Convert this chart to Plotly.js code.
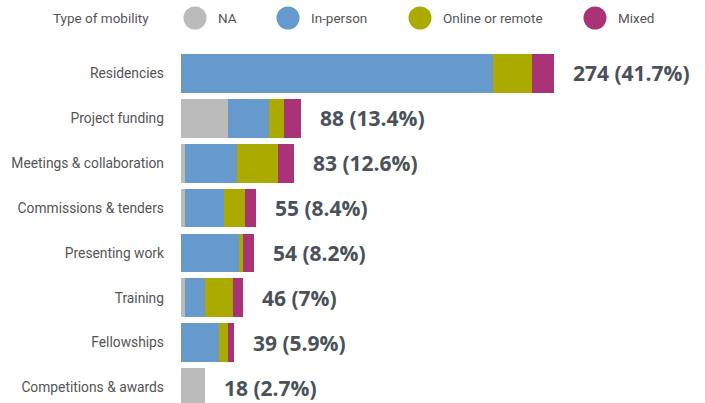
<!DOCTYPE html>
<html>
<head>
<meta charset="utf-8">
<script src="https://cdn.plot.ly/plotly-3.0.1.min.js"></script>
<style>
html,body{margin:0;padding:0;background:#fff;}
#chart{width:705px;height:403px;}
</style>
</head>
<body>
<div id="chart"></div>
<script>
// ---- data ----
var categories = ["Residencies","Project funding","Meetings & collaboration","Commissions & tenders","Presenting work","Training","Fellowships","Competitions & awards"];
var seriesNames = ["NA","In-person","Online or remote","Mixed"];
var naValues       = [0, 35, 3, 3, 0, 3, 0, 18];
var inPersonValues = [229, 30, 38, 29, 43, 15, 28, 0];
var onlineValues   = [29, 11, 30, 15, 3, 20, 7, 0];
var mixedValues    = [16, 12, 12, 8, 8, 8, 4, 0];
var legendTitle = "Type of mobility";

// ---- styling ----
var colors = ["#bbbbbb","#6699cc","#aaaa00","#aa3377"];
var W = 705, H = 403;
var mL = 180, mR = 0, mT = 51, mB = 0;
var plotW = W - mL - mR, plotH = H - mT - mB;
var pxPerUnit = 1.362;
var catSpacing = 44.87;

var allSeries = [naValues, inPersonValues, onlineValues, mixedValues];
var totals = categories.map(function(c, i){
  return allSeries.reduce(function(s, arr){ return s + arr[i]; }, 0);
});
var grand = totals.reduce(function(a,b){return a+b;},0);

var traces = allSeries.map(function(vals, k){
  return {
    type: 'bar', orientation: 'h',
    x: vals, y: categories,
    name: seriesNames[k],
    marker: {color: colors[k], line: {width: 0}},
    showlegend: false,
    hoverinfo: 'x+name'
  };
});

var annotations = categories.map(function(c, i){
  var pct = Math.round(totals[i] / grand * 1000) / 10;
  return {
    x: totals[i], y: c, xref: 'x', yref: 'y',
    text: totals[i] + ' (' + pct + '%)',
    xanchor: 'left', yanchor: 'middle', xshift: 17, yshift: 0,
    showarrow: false,
    font: {family: 'Open Sans, sans-serif', size: 21, color: '#4a5259', weight: 700}
  };
});

function px2x(px){ return (px - mL) / plotW; }
function py2y(py){ return (H - mB - py) / plotH; }

// legend (drawn manually to match circle markers)
var legY = 18;
annotations.push({
  x: px2x(51), y: py2y(legY), xref: 'paper', yref: 'paper',
  text: legendTitle, xanchor: 'left', yanchor: 'middle', showarrow: false,
  font: {family: 'Roboto, sans-serif', size: 13.5, color: '#555555'}
});
var circleCenters = [195, 288, 420, 595];
var shapes = [];
seriesNames.forEach(function(n, k){
  shapes.push({
    type: 'circle', xref: 'paper', yref: 'paper',
    xsizemode: 'pixel', ysizemode: 'pixel',
    xanchor: px2x(circleCenters[k]), yanchor: py2y(legY),
    x0: -11.5, x1: 11.5, y0: -11.5, y1: 11.5,
    fillcolor: colors[k], line: {width: 0}
  });
  annotations.push({
    x: px2x(circleCenters[k] + 21), y: py2y(legY), xref: 'paper', yref: 'paper',
    text: n, xanchor: 'left', yanchor: 'middle', showarrow: false,
    font: {family: 'Roboto, sans-serif', size: 13.5, color: '#555555'}
  });
});

var layout = {
  width: W, height: H,
  margin: {l: mL, r: mR, t: mT, b: mB, pad: 0},
  barmode: 'stack',
  bargap: 0.137,
  paper_bgcolor: '#ffffff', plot_bgcolor: '#ffffff',
  showlegend: false,
  xaxis: {
    range: [-0.6, plotW / pxPerUnit - 0.6],
    visible: false, showgrid: false, zeroline: false, fixedrange: true
  },
  yaxis: {
    type: 'category',
    categoryorder: 'array', categoryarray: categories,
    range: [plotH / catSpacing - 0.5, -0.5],
    autorange: false,
    showgrid: false, zeroline: false, showline: false, ticks: '',
    ticklabelstandoff: 15,
    tickfont: {family: 'Roboto, sans-serif', size: 13.8, color: '#555555'},
    fixedrange: true
  },
  annotations: annotations,
  shapes: shapes
};

Plotly.newPlot('chart', traces, layout, {displayModeBar: false, staticPlot: true});
</script>
</body>
</html>
